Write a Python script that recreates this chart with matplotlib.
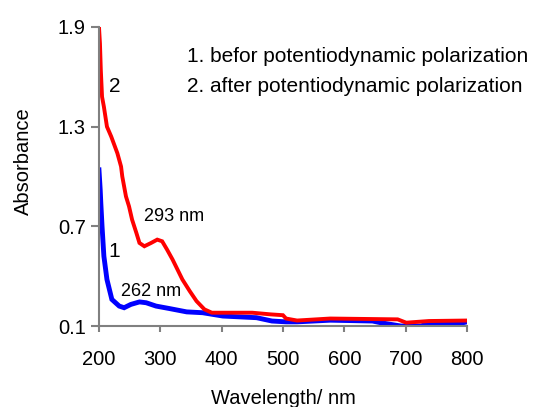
import matplotlib
matplotlib.use("Agg")
import matplotlib.pyplot as plt

plt.rcParams['font.family'] = ['Liberation Sans', 'DejaVu Sans']

# Curve 1: before potentiodynamic polarization (blue)
wl_before = [200, 202, 203, 205, 208, 213, 221, 233, 241, 252, 266, 277, 293, 315,
             343, 369, 402, 457, 482, 505, 523, 577, 646, 659, 692, 725, 741, 760,
             782, 800]
abs_before = [1.04, 0.92, 0.84, 0.70, 0.52, 0.38, 0.26, 0.22, 0.21, 0.23, 0.245, 0.24,
              0.22, 0.205, 0.185, 0.18, 0.16, 0.15, 0.13, 0.125, 0.125, 0.135, 0.13,
              0.12, 0.10, 0.10, 0.12, 0.12, 0.11, 0.125]

# Curve 2: after potentiodynamic polarization (red)
wl_after = [200, 201.6, 203, 205, 208, 213, 220, 225, 230, 236, 238, 244, 249, 254,
            261, 266, 274, 285, 295, 303, 311, 320, 328, 336, 348, 359, 372, 384,
            450, 480, 500, 505, 523, 577, 687, 701, 738, 801]
abs_after = [1.90, 1.80, 1.64, 1.48, 1.42, 1.30, 1.24, 1.19, 1.14, 1.06, 1.00, 0.88,
             0.82, 0.74, 0.66, 0.60, 0.58, 0.60, 0.62, 0.61, 0.56, 0.50, 0.44, 0.38,
             0.31, 0.25, 0.20, 0.18, 0.18, 0.17, 0.165, 0.145, 0.133, 0.145, 0.14,
             0.12, 0.13, 0.133]

x_ticks = [200, 300, 400, 500, 600, 700, 800]
y_ticks = [0.1, 0.7, 1.3, 1.9]
y_tick_labels = ["0.1", "0.7", "1.3", "1.9"]

fig = plt.figure(figsize=(5.33, 4.07), dpi=100)
ax = fig.add_axes([0.1857, 0.199, 0.6904, 0.7347])

ax.plot(wl_before, abs_before, color='#0000FF', lw=3.5, solid_joinstyle='miter')
ax.plot(wl_after, abs_after, color='#FF0000', lw=2.8, solid_joinstyle='miter')

ax.set_xlim(200, 800)
ax.set_ylim(0.1, 1.9)
ax.set_xticks(x_ticks)
ax.set_yticks(y_ticks)
ax.set_yticklabels(y_tick_labels)

for s in ['top', 'right']:
    ax.spines[s].set_visible(False)
for s in ['left', 'bottom']:
    ax.spines[s].set_color('#808080')
    ax.spines[s].set_linewidth(1.5)
ax.tick_params(axis='both', colors='#808080', width=1.5, labelcolor='black',
               labelsize=14.5)
ax.tick_params(axis='x', pad=13, length=4)
ax.tick_params(axis='y', pad=3.5, length=6)

ax.set_xlabel('Wavelength/ nm', fontsize=14.5)
ax.set_ylabel('Absorbance', fontsize=14.5)
ax.xaxis.set_label_coords(0.5, -0.212)
ax.yaxis.set_label_coords(-0.179, 0.55)

ax.text(323, 0.76, '293 nm', fontsize=13, ha='center', va='center')
ax.text(285, 0.31, '262 nm', fontsize=13, ha='center', va='center')
ax.text(225, 0.55, '1', fontsize=15, ha='center', va='center')
ax.text(225, 1.54, '2', fontsize=15, ha='center', va='center')
ax.text(343, 1.72, '1. befor potentiodynamic polarization', fontsize=15, ha='left', va='center')
ax.text(343, 1.54, '2. after potentiodynamic polarization', fontsize=15, ha='left', va='center')

fig.savefig('out.png', dpi=100)
